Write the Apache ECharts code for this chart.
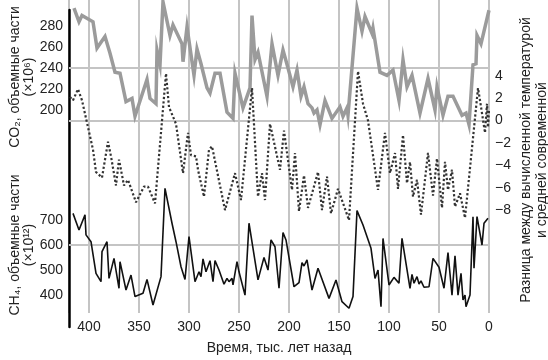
<!DOCTYPE html>
<html><head><meta charset="utf-8">
<script src="https://cdn.jsdelivr.net/npm/echarts@6/dist/echarts.min.js"></script>
<style>html,body{margin:0;padding:0;background:#fff}#c{width:548px;height:360px}</style>
</head><body><div id="c"></div>
<script>
// ---- data (time in thousand years ago) ----
const timeTickLabels = [400, 350, 300, 250, 200, 150, 100, 50, 0];
const co2TickLabels = [200, 220, 240, 260, 280];
const tempTickLabels = [4, 2, 0, -2, -4, -6, -8];
const ch4TickLabels = [400, 500, 600, 700];
const co2GridValues = [240];
const tempGridValues = [0];
const ch4GridValues = [600];

const co2Time = [415,410,407,396,392,384,379,374,369,363,357,354,342,339,333,332,329,326,319,316,307,306,302,295,292,288,286,282,279,274,269,262,256,254,246,239,237,234,231,222,217,211,206,201,196,192,188,185,181,177,175,172,169,164,157,149,146,142,141,132,127,124,117,116,109,102,96,90,86,82,77,69,61,54,52,46,41,36,27,23,20,16,13,12,8,0];
const co2Values = [297,284,290,284,259,270,254,236,235,208,211,194,229,211,206,257,243,303,271,281,263,246,279,233,258,244,243,221,216,235,235,198,192,235,202,221,290,248,255,213,263,233,257,240,222,238,213,222,206,202,197,200,186,209,192,203,194,202,195,297,275,289,273,278,236,233,238,209,248,222,233,197,230,200,222,195,213,213,195,197,186,243,244,271,263,295];

const tempTime = [419,416,411,407,401,396,393,387,381,378,373,370,365,361,353,345,341,334,323,320,313,306,301,298,293,291,285,280,277,264,254,248,237,231,227,224,219,209,205,197,194,190,185,181,171,167,162,158,151,140,131,126,121,111,104,99,94,91,86,82,79,76,72,68,61,56,52,47,44,41,37,34,29,24,11,9,4,2,1,0];
const tempValues = [2.1,1.8,2.8,1.8,-0.6,-2.6,-4.6,-5.1,-1.9,-3.2,-5.8,-3.5,-5.8,-5.3,-7.3,-5.9,-5.9,-7.4,4.2,1.2,-0.3,-4.7,-1.1,-3.1,-3.2,-4.4,-6.8,-2.6,-2.3,-8.0,-4.7,-7.1,2.9,-6.8,-4.7,-7.1,-0.3,-4.4,-0.9,-6.2,-2.9,-8.1,-4.9,-7.8,-4.6,-8.0,-5.0,-8.3,-6.1,-8.9,4.4,1.5,0.0,-6.2,-1.1,-4.7,-2.9,-6.1,-1.3,-5.6,-3.7,-6.8,-5.3,-8.4,-2.9,-6.7,-3.4,-7.8,-3.7,-6.2,-4.4,-7.7,-6.5,-8.7,2.9,1.8,-1.1,1.5,-0.6,0.9];

const ch4Time = [416,410,404,403,398,396,393,388,387,382,380,375,370,369,363,358,354,346,342,336,328,324,317,313,308,304,300,294,290,288,286,283,279,276,274,270,268,265,262,260,257,256,252,250,244,240,231,225,221,218,214,210,206,203,195,190,187,185,182,177,171,160,153,147,140,136,132,126,118,114,111,108,106,100,95,90,87,79,77,75,72,70,68,65,60,56,50,45,41,37,34,31,28,26,24,23,19,16,15,12,7,5,1];
const ch4Values = [725,659,719,640,613,607,488,455,574,613,468,547,429,534,422,481,396,409,464,363,475,824,686,613,514,464,633,455,494,475,545,494,538,455,538,501,504,445,468,455,468,442,534,494,402,686,462,551,501,620,593,429,649,620,435,451,530,517,541,422,508,389,462,376,350,396,736,679,587,468,501,356,626,442,472,449,626,429,484,449,475,446,458,433,435,547,512,429,570,402,557,402,488,383,402,356,402,712,508,712,600,686,706];

const zip = (a, b) => a.map((t, i) => [t, b[i]]);
const FONT = '"Liberation Sans", Arial, Helvetica, sans-serif';
const TXT = '#222';
const GRIDC = '#c4c4c4';
const L = 69, R = 59;

const grids = [
  {left: L, right: R, top: 0, bottom: 47},        // x axis + vertical grid
  {left: L, right: R, top: 10, bottom: 33},       // black left rule
  {left: L, right: R, top: 5, height: 126},       // CO2 180..300
  {left: L, right: R, top: 8.5, height: 224},     // T -10..10
  {left: L, right: R, top: 169.1, height: 151.8}  // CH4 300..900
];

const xAxes = grids.map((g, i) => {
  const base = {type: 'value', gridIndex: i, min: 0, max: 420, inverse: true};
  if (i !== 0) return Object.assign(base, {show: false});
  return Object.assign(base, {
    interval: 50,
    axisLine: {show: false, onZero: false}, axisTick: {show: false},
    axisLabel: {margin: 7, fontSize: 14, color: TXT, fontFamily: FONT,
      showMaxLabel: false,
      formatter: v => timeTickLabels.includes(v) ? String(v) : ''},
    splitLine: {show: true, lineStyle: {color: GRIDC, width: 2}},
    name: 'Время, тыс. лет назад', nameLocation: 'middle', nameGap: 28,
    nameTextStyle: {fontSize: 14, color: TXT, fontFamily: FONT}
  });
});

const fmtMinus = v => v < 0 ? '\u2212' + (-v) : String(v);
const labelStyle = {fontSize: 14, color: TXT, fontFamily: FONT, margin: 6};
const yAxes = [
  {type: 'value', gridIndex: 0, min: 0, max: 1, show: false},
  {type: 'value', gridIndex: 1, min: 0, max: 1, position: 'left',
    axisLine: {show: true, onZero: false, lineStyle: {color: '#000', width: 2.5}},
    axisTick: {show: false}, axisLabel: {show: false}, splitLine: {show: false}},
  {type: 'value', gridIndex: 2, min: 180, max: 300, interval: 20,
    axisLine: {show: false, onZero: false}, axisTick: {show: false}, splitLine: {show: false},
    axisLabel: Object.assign({}, labelStyle, {formatter: v => co2TickLabels.includes(v) ? String(v) : ''})},
  {type: 'value', gridIndex: 3, position: 'right', min: -10, max: 10, interval: 2,
    axisLine: {show: false, onZero: false}, axisTick: {show: false}, splitLine: {show: false},
    axisLabel: Object.assign({}, labelStyle, {formatter: v => tempTickLabels.includes(v) ? fmtMinus(v) : ''})},
  {type: 'value', gridIndex: 4, min: 300, max: 900, interval: 100,
    axisLine: {show: false, onZero: false}, axisTick: {show: false}, splitLine: {show: false},
    axisLabel: Object.assign({}, labelStyle, {formatter: v => ch4TickLabels.includes(v) ? String(v) : ''})}
];

const gridMark = vals => ({
  z: 1, silent: true, symbol: 'none', animation: false,
  label: {show: false},
  lineStyle: {type: 'solid', color: GRIDC, width: 2},
  data: vals.map(v => ({yAxis: v}))
});

const option = {
  animation: false,
  textStyle: {fontFamily: FONT},
  grid: grids,
  xAxis: xAxes,
  yAxis: yAxes,
  series: [
    {type: 'line', xAxisIndex: 2, yAxisIndex: 2, data: zip(co2Time, co2Values),
      showSymbol: false, clip: false, z: 3,
      lineStyle: {color: '#9b9b9b', width: 3.5, join: 'miter'},
      markLine: gridMark(co2GridValues)},
    {type: 'line', xAxisIndex: 3, yAxisIndex: 3, data: zip(tempTime, tempValues),
      showSymbol: false, clip: false, z: 4,
      lineStyle: {color: '#333', width: 2.2, type: 'dotted'},
      markLine: gridMark(tempGridValues)},
    {type: 'line', xAxisIndex: 4, yAxisIndex: 4, data: zip(ch4Time, ch4Values),
      showSymbol: false, clip: false, z: 5,
      lineStyle: {color: '#111', width: 1.6},
      markLine: gridMark(ch4GridValues)}
  ],
  graphic: [
    {type: 'text', x: 22, y: 77, rotation: Math.PI / 2,
      style: {text: 'CO\u2082, объемные части\n(\u00d710\u2076)', font: '14px ' + FONT, fill: TXT,
        align: 'center', verticalAlign: 'middle', textAlign: 'center', textVerticalAlign: 'middle', lineHeight: 14}},
    {type: 'text', x: 22, y: 245, rotation: Math.PI / 2,
      style: {text: 'CH\u2084, объемные части\n(\u00d710\u00b9\u00b2)', font: '14px ' + FONT, fill: TXT,
        align: 'center', verticalAlign: 'middle', textAlign: 'center', textVerticalAlign: 'middle', lineHeight: 14}},
    {type: 'text', x: 534, y: 160, rotation: Math.PI / 2,
      style: {text: 'Разница между вычисленной температурой\nи средней современной', font: '14px ' + FONT, fill: TXT,
        align: 'center', verticalAlign: 'middle', textAlign: 'center', textVerticalAlign: 'middle', lineHeight: 16}}
  ]
};

const chart = echarts.init(document.getElementById('c'));
chart.setOption(option);
</script>
</body></html>
